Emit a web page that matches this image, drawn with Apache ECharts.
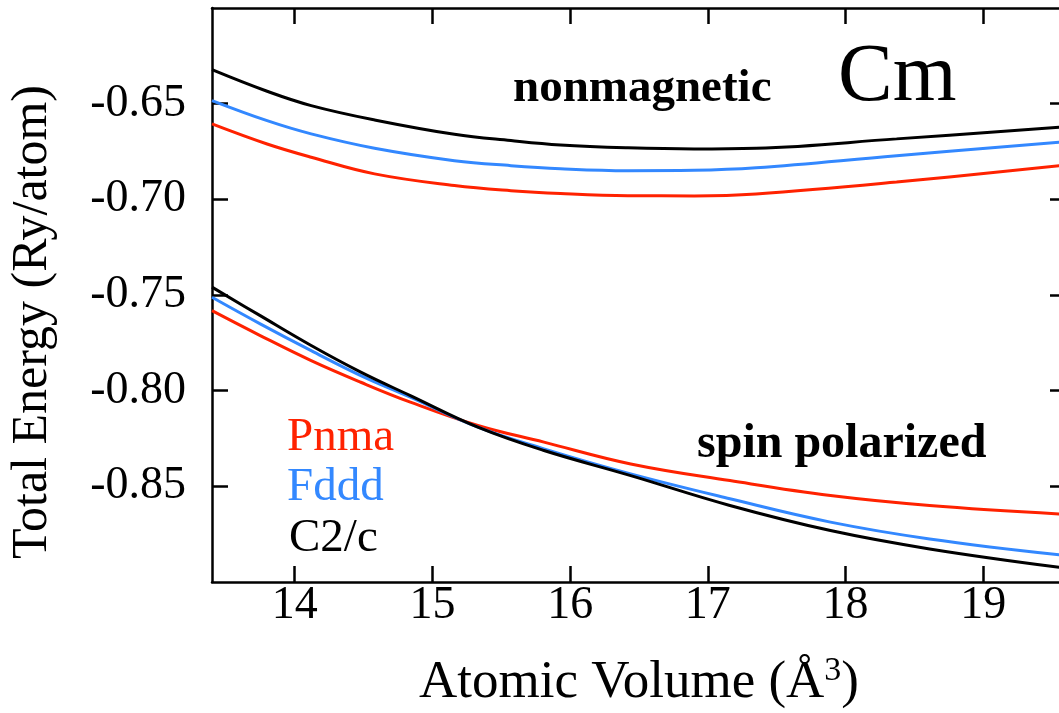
<!DOCTYPE html>
<html>
<head>
<meta charset="utf-8">
<script src="https://cdn.jsdelivr.net/npm/echarts@6/dist/echarts.min.js"></script>
<style>html,body{margin:0;padding:0;background:#fff;}#c{width:1059px;height:713px;}</style>
</head>
<body>
<div id="c"></div>
<script>
// Data (Atomic volume in Å^3, total energy in Ry/atom)
var volNM = [13.4, 13.8, 14.12, 14.58, 15.16, 15.57, 15.93, 16.42, 16.9, 17.35, 18.37, 19.55];
var pnmaNM = [-0.6606, -0.6711, -0.6780, -0.6867, -0.6928, -0.6955, -0.6970, -0.6981, -0.6982, -0.6972, -0.6910, -0.6824];
var fdddNM = [-0.6484, -0.6589, -0.6658, -0.6733, -0.6798, -0.6824, -0.6840, -0.6850, -0.6848, -0.6835, -0.6772, -0.6702];
var c2cNM  = [-0.6322, -0.6435, -0.6510, -0.6585, -0.6660, -0.6693, -0.6716, -0.6731, -0.6737, -0.6733, -0.6684, -0.6623];

var volSP = [13.4, 13.75, 14.12, 14.48, 14.84, 15.33, 15.81, 16.44, 17.16, 17.89, 18.61, 19.55];
var pnmaSP = [-0.7582, -0.7712, -0.7843, -0.7956, -0.8060, -0.8182, -0.8269, -0.8383, -0.8470, -0.8548, -0.8600, -0.8644];
var fdddSP = [-0.7512, -0.7651, -0.7791, -0.7921, -0.8034, -0.8191, -0.8304, -0.8435, -0.8565, -0.8687, -0.8775, -0.8858];
var c2cSP  = [-0.7459, -0.7608, -0.7764, -0.7903, -0.8026, -0.8191, -0.8313, -0.8444, -0.8600, -0.8731, -0.8827, -0.8923];

var xTicks = [14, 15, 16, 17, 18, 19];
var yTicks = [-0.85, -0.80, -0.75, -0.70, -0.65];

var RED = '#ff2200', BLUE = '#3388ff', BLACK = '#000000';
var FONT = '"Liberation Serif", "Times New Roman", serif';

function pairs(xs, ys) { return xs.map(function (x, i) { return [x, ys[i]]; }); }
function line(name, xs, ys, color) {
  return { name: name, type: 'line', data: pairs(xs, ys), smooth: 0.4, showSymbol: false,
    xAxisIndex: 0, yAxisIndex: 0, lineStyle: { color: color, width: 3 }, itemStyle: { color: color },
    silent: true, animation: false };
}
var axLine = { show: true, lineStyle: { color: '#000', width: 2.5 } };
function xAx(pos, labels) {
  return { type: 'value', position: pos, min: 13.4, max: 19.6,
    axisLine: axLine,
    axisTick: { show: true, inside: true, length: 16, customValues: xTicks, lineStyle: { color: '#000', width: 2.5 } },
    axisLabel: { show: labels, customValues: xTicks, fontFamily: FONT, fontSize: 46, color: '#000', margin: 1 },
    splitLine: { show: false } };
}
function yAx(pos, labels) {
  return { type: 'value', position: pos, min: -0.9, max: -0.6,
    axisLine: axLine,
    axisTick: { show: true, inside: true, length: 16, customValues: yTicks, lineStyle: { color: '#000', width: 2.5 } },
    axisLabel: { show: labels, customValues: yTicks, fontFamily: FONT, fontSize: 46, color: '#000', margin: 26,
      formatter: function (v) { return v.toFixed(2); } },
    splitLine: { show: false } };
}
var xa0 = xAx('bottom', true);
xa0.name = 'Atomic Volume (Å{sup|3})';
xa0.nameLocation = 'middle';
xa0.nameGap = 72;
xa0.nameTextStyle = { fontFamily: FONT, fontSize: 53, color: '#000',
  rich: { sup: { fontFamily: FONT, fontSize: 34, color: '#000', verticalAlign: 'top', padding: [0, 0, 24, 0] } } };

var chart = echarts.init(document.getElementById('c'));
chart.setOption({
  animation: false,
  backgroundColor: '#fff',
  grid: { left: 212, top: 8, width: 854, height: 574, containLabel: false, outerBoundsMode: 'none' },
  xAxis: [xa0, xAx('top', false)],
  yAxis: [yAx('left', true), yAx('right', false)],
  series: [
    line('Pnma NM', volNM, pnmaNM, RED),
    line('Fddd NM', volNM, fdddNM, BLUE),
    line('C2/c NM', volNM, c2cNM, BLACK),
    line('Pnma SP', volSP, pnmaSP, RED),
    line('Fddd SP', volSP, fdddSP, BLUE),
    line('C2/c SP', volSP, c2cSP, BLACK)
  ],
  graphic: [
    { type: 'text', rotation: Math.PI / 2, x: 33, y: 322,
      style: { text: 'Total Energy (Ry/atom)', font: '50px ' + FONT, fill: '#000', align: 'center', verticalAlign: 'middle' } },
    { type: 'text', x: 838, y: 78, style: { text: 'Cm', font: '82px ' + FONT, fill: '#000', verticalAlign: 'middle' } },
    { type: 'text', x: 513, y: 89, style: { text: 'nonmagnetic', font: 'bold 47px ' + FONT, fill: '#000', verticalAlign: 'middle' } },
    { type: 'text', x: 697, y: 445, style: { text: 'spin polarized', font: 'bold 48px ' + FONT, fill: '#000', verticalAlign: 'middle' } },
    { type: 'text', x: 287, y: 438, style: { text: 'Pnma', font: '47px ' + FONT, fill: RED, verticalAlign: 'middle' } },
    { type: 'text', x: 287, y: 488, style: { text: 'Fddd', font: '47px ' + FONT, fill: BLUE, verticalAlign: 'middle' } },
    { type: 'text', x: 289, y: 539, style: { text: 'C2/c', font: '47px ' + FONT, fill: BLACK, verticalAlign: 'middle' } }
  ]
});
</script>
</body>
</html>
